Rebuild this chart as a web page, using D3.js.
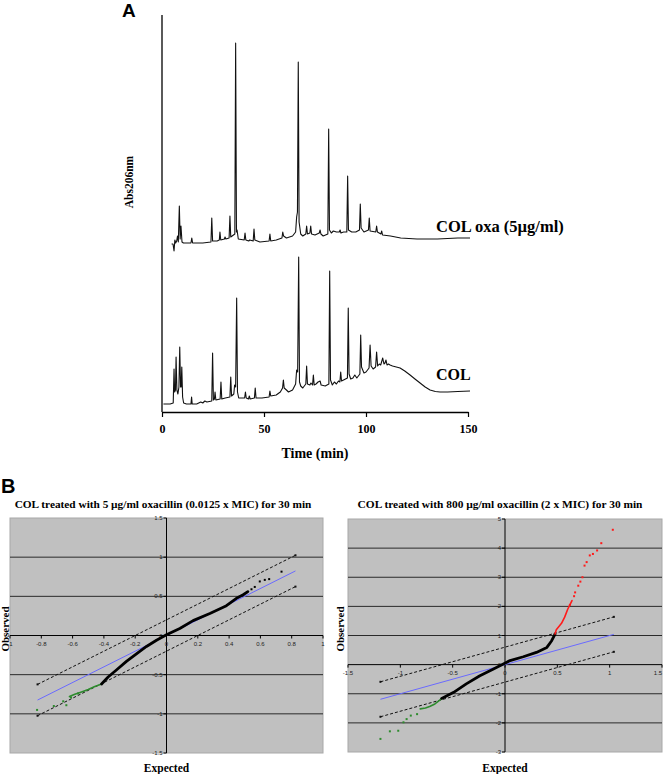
<!DOCTYPE html>
<html><head><meta charset="utf-8">
<script src="https://cdn.jsdelivr.net/npm/d3@7"></script>
<style>body{margin:0;background:#fff}svg{display:block}</style>
</head><body>
<svg id="c" width="664" height="774"></svg>
<script>
// ---------------- DATA ----------------
// Panel A: chromatograms, [time (min), absorbance (arbitrary units)]
const timeTicks = [0, 50, 100, 150];
const traceLabels = ["COL oxa (5µg/ml)", "COL"];
const colOxa = [[4.7,168],[5.4,168],[5.9,161],[6.3,172],[6.7,169],[7.2,171],[7.6,176],[8.0,170],[8.5,206],[8.9,173],[9.3,186],[9.8,170],[10.5,169],[14.2,169],[14.6,174],[15.0,169],[20,169],[24.0,170],[24.4,194],[24.8,171],[27,171],[28.1,172],[28.4,180],[28.8,172],[30.6,173],[30.9,175],[31.3,173],[32.9,174],[33.3,196],[33.7,175],[35.7,178],[36.1,369],[36.5,180],[36.8,182],[37.4,173],[40.3,172],[40.7,179],[41.1,172],[42.5,171],[43,172],[44.7,171],[45.1,183],[45.5,172],[48,170],[52.5,171],[52.9,178],[53.3,171],[56,172],[58.8,174],[59.2,180],[59.6,176],[61,174],[64,176],[65.5,180],[66.0,195],[66.4,200],[66.8,350],[67.2,190],[68,178],[69,176],[70.5,178],[70.9,186],[71.3,178],[72.5,179],[72.9,186],[73.3,178],[75,177],[77.1,179],[77.5,182],[77.9,178],[79,176],[81.3,178],[81.7,283],[82.1,182],[83,179],[84,181],[85.5,180],[86.9,180],[87.3,182],[87.7,179],[89,180],[90.6,180],[91.0,236],[91.4,182],[93,180],[95,180],[96.8,182],[97.2,208],[97.6,184],[99,180],[101.2,182],[101.6,194],[102,181],[104.8,180],[105.2,186],[105.6,180],[107.3,178],[107.7,181],[108.1,177],[112,176],[117,174],[125,173],[135,173],[145,174],[151,174]];
const col = [[0.7,8],[4,8],[5.5,9],[5.9,43],[6.2,20],[6.6,22],[6.9,55],[7.3,22],[7.8,18],[8.3,25],[8.7,65],[9.1,25],[9.4,25],[9.7,45],[10.1,15],[10.6,9],[12,8],[14.2,8],[14.5,15],[14.8,8],[17,8],[19,10],[20,9],[21,11],[22,10],[24.4,11],[24.8,59],[25.2,12],[25.7,13],[26,20],[26.4,12],[28.5,13],[28.9,30],[29.3,13],[31,14],[33.3,15],[33.7,35],[34.1,16],[35.2,18],[35.6,27],[36.1,25],[36.6,114],[37,20],[37.6,14],[40.5,14],[40.9,20],[41.3,14],[42.4,13],[42.8,16],[43.2,13],[45.3,14],[45.7,24],[46.1,14],[49,14],[52.5,15],[52.9,21],[53.3,16],[56,17],[58,20],[59.1,24],[59.5,32],[59.9,24],[61,22],[62,20],[64,22],[65.5,28],[66,42],[66.5,40],[67,155],[67.4,30],[68,26],[69,24],[70.5,28],[70.9,46],[71.3,28],[72.5,27],[73,29],[73.8,27],[74.2,37],[74.6,27],[75.5,28],[76.5,30],[77.5,31],[78,27],[80,26],[81.8,28],[82.2,141],[82.6,32],[83.5,27],[84.5,30],[85.5,28],[86.5,31],[87.2,30],[87.6,40],[88,31],[89,32],[90.9,34],[91.3,104],[91.7,38],[92.5,33],[93.6,34],[94.5,37],[95.5,34],[97,38],[97.4,77],[97.8,45],[99,39],[100,40],[101.5,44],[102,67],[102.5,46],[103.5,43],[104.7,45],[105.2,60],[105.7,46],[106.5,48],[107.2,47],[108.2,54],[108.8,48],[109.3,49],[109.8,52],[110.3,47],[111,48],[111.8,47],[113,46],[116.7,44],[119,41],[121.6,37],[124,33],[126.5,29],[129,25],[131.4,22],[134,20.5],[136.3,20],[140,20],[145,20.5],[151,21]];

// Panel B: Q-Q plots, [expected, observed]
const titles = ["COL treated with 5 µg/ml oxacillin (0.0125 x MIC) for 30 min",
                "COL treated with 800 µg/ml oxacillin (2 x MIC) for 30 min"];
const leftXTicks = [-1,-0.8,-0.6,-0.4,-0.2,0,0.2,0.4,0.6,0.8,1];
const leftYTicks = [-1.5,-1,-0.5,0,0.5,1,1.5];
const leftRefRange = [-0.824, 0.824];
const leftBand = 0.2;
const leftGreenDense = [[-0.62,-0.78],[-0.586,-0.75],[-0.543,-0.72],[-0.50,-0.69],[-0.458,-0.65],[-0.415,-0.62]];
const leftGreenDots = [[-0.827,-0.95],[-0.72,-0.90],[-0.64,-0.89],[-0.66,-0.84],[-0.61,-0.79],[-0.565,-0.74]];
const leftBlackDense = [[-0.415,-0.62],[-0.373,-0.53],[-0.32,-0.44],[-0.256,-0.33],[-0.19,-0.23],[-0.128,-0.14],[-0.064,-0.06],[0,0.01],[0.085,0.09],[0.17,0.19],[0.277,0.28],[0.383,0.38],[0.447,0.475],[0.49,0.52],[0.52,0.56]];
const leftBlackDots = [[0.543,0.59],[0.564,0.62],[0.596,0.69],[0.628,0.71],[0.656,0.72],[0.735,0.815]];

const rightXTicks = [-1.5,-1,-0.5,0,0.5,1,1.5];
const rightYTicks = [-3,-2,-1,0,1,2,3,4,5];
const rightRefRange = [-1.19, 1.04];
const rightBand = 0.6;
const rightGreenDense = [[-0.81,-1.52],[-0.76,-1.49],[-0.72,-1.44],[-0.67,-1.35],[-0.62,-1.21],[-0.605,-1.16]];
const rightGreenDots = [[-1.19,-2.55],[-1.10,-2.29],[-1.02,-2.27],[-0.97,-1.98],[-0.94,-1.87],[-0.90,-1.75],[-0.84,-1.70]];
const rightBlackDense = [[-0.605,-1.16],[-0.49,-0.95],[-0.37,-0.66],[-0.24,-0.38],[-0.11,-0.15],[-0.016,0.02],[0.048,0.14],[0.175,0.27],[0.30,0.42],[0.40,0.59],[0.446,0.82],[0.478,1.05]];
const rightRedDense = [[0.478,1.05],[0.49,1.20],[0.54,1.42],[0.57,1.63],[0.60,1.91],[0.64,2.20]];
const rightRedDots = [[0.67,2.48],[0.70,2.71],[0.74,3.0],[0.76,3.40],[0.78,3.52],[0.81,3.75],[0.84,3.80],[0.88,3.92],[0.92,4.17],[1.03,4.63],[0.62,2.05],[0.66,2.35],[0.72,2.85]];

// ---------------- DRAW ----------------
const svg = d3.select("#c");
const SERIF = "'Liberation Serif', 'Times New Roman', serif";
const SANS = "'Liberation Sans', Arial, sans-serif";

// Panel A
const xA = d3.scaleLinear().domain([0,150]).range([162,468]);
const yA = d3.scaleLinear().domain([0,397]).range([412,15]);
const gA = svg.append("g");
gA.append("text").attr("x",122).attr("y",17).attr("font-family",SANS).attr("font-weight","bold").attr("font-size",19).text("A");
gA.append("line").attr("x1",xA(0)).attr("x2",xA(0)).attr("y1",yA(397)).attr("y2",yA(0)).attr("stroke","#000").attr("stroke-width",1.3);
const axA = d3.axisBottom(xA).tickValues(timeTicks).tickSize(5).tickSizeOuter(0).tickFormat(d=>d);
const gax = gA.append("g").attr("transform",`translate(0,${yA(0)})`).call(axA);
gax.select(".domain").attr("stroke","#000").attr("stroke-width",1.3);
gax.selectAll(".tick line").attr("stroke","#000").attr("stroke-width",1.2);
gax.selectAll("text").attr("font-family",SERIF).attr("font-weight","bold").attr("font-size",12).attr("fill","#000").attr("dy","1.1em");
gA.append("text").attr("x",(xA(0)+xA(150))/2).attr("y",458).attr("text-anchor","middle").attr("font-family",SERIF).attr("font-weight","bold").attr("font-size",14).text("Time (min)");
gA.append("text").attr("transform","translate(133,182) rotate(-90)").attr("text-anchor","middle").attr("font-family",SERIF).attr("font-weight","bold").attr("font-size",11.5).text("Abs206nm");
const lineA = d3.line().x(d=>xA(d[0])).y(d=>yA(d[1]));
[colOxa, col].forEach(tr=>{
  gA.append("path").attr("d",lineA(tr)).attr("fill","none").attr("stroke","#111").attr("stroke-width",1.1).attr("stroke-linejoin","round");
});
gA.append("text").attr("x",436).attr("y",232).attr("font-family",SERIF).attr("font-weight","bold").attr("font-size",16.5).text(traceLabels[0]);
gA.append("text").attr("x",436).attr("y",380).attr("font-family",SERIF).attr("font-weight","bold").attr("font-size",16).text(traceLabels[1]);

svg.append("text").attr("x",1).attr("y",493).attr("font-family",SANS).attr("font-weight","bold").attr("font-size",20).text("B");

function qq(cfg){
  const g = svg.append("g");
  const x = d3.scaleLinear().domain(cfg.xd).range([cfg.l,cfg.r]);
  const y = d3.scaleLinear().domain(cfg.yd).range([cfg.b,cfg.t]);
  g.append("text").attr("x",cfg.tx).attr("y",508).attr("text-anchor","middle").attr("font-family",SERIF).attr("font-weight","bold").attr("font-size",cfg.tfs).text(cfg.title);
  g.append("rect").attr("x",cfg.l).attr("y",cfg.t).attr("width",cfg.r-cfg.l).attr("height",cfg.b-cfg.t).attr("fill","#c0c0c0").attr("stroke","#a8a8a8");
  g.selectAll(".grid").data(cfg.yt.filter(v=>v!==0 && v!==cfg.yd[0] && v!==cfg.yd[1])).join("line")
    .attr("x1",cfg.l).attr("x2",cfg.r).attr("y1",d=>y(d)).attr("y2",d=>y(d)).attr("stroke","#2a2a2a").attr("stroke-width",1);
  g.append("line").attr("x1",cfg.l).attr("x2",cfg.r).attr("y1",y(0)).attr("y2",y(0)).attr("stroke","#000");
  g.append("line").attr("x1",x(0)).attr("x2",x(0)).attr("y1",cfg.t).attr("y2",cfg.b).attr("stroke","#000");
  g.selectAll(".xt").data(cfg.xt).join("line").attr("x1",d=>x(d)).attr("x2",d=>x(d)).attr("y1",y(0)).attr("y2",y(0)+3).attr("stroke","#000");
  g.selectAll(".yt").data(cfg.yt).join("line").attr("x1",x(0)-3).attr("x2",x(0)).attr("y1",d=>y(d)).attr("y2",d=>y(d)).attr("stroke","#000");
  g.selectAll(".xl").data(cfg.xt).join("text").attr("x",d=>Math.min(x(d), 662-4)).attr("y",y(0)+10).attr("text-anchor","middle")
    .attr("font-family",SANS).attr("font-size",6).attr("fill","#222").text(d=>String(d));
  g.selectAll(".yl").data(cfg.yt).join("text").attr("x",x(0)-4).attr("y",d=>y(d)+2).attr("text-anchor","end")
    .attr("font-family",SANS).attr("font-size",6).attr("fill","#222").text(d=>String(d));
  const ln = d3.line().x(d=>x(d[0])).y(d=>y(d[1]));
  const [a,b] = cfg.ref;
  g.append("path").attr("d",ln([[a,a],[b,b]])).attr("stroke","#6a6aff").attr("stroke-width",1).attr("fill","none");
  [cfg.band,-cfg.band].forEach(o=>{
    const pts=[[a,a+o],[b,b+o]];
    g.append("path").attr("d",ln(pts)).attr("stroke","#111").attr("stroke-width",1).attr("stroke-dasharray","3,2").attr("fill","none");
    g.selectAll(null).data(pts).join("rect").attr("x",d=>x(d[0])-1).attr("y",d=>y(d[1])-1).attr("width",2).attr("height",2).attr("fill","#111");
  });
  cfg.series.forEach(s=>{
    if(s.dense) g.append("path").attr("d",ln(s.dense)).attr("fill","none").attr("stroke",s.color).attr("stroke-width",s.w).attr("stroke-linecap","round").attr("stroke-linejoin","round");
    if(s.dots) g.selectAll(null).data(s.dots).join("rect").attr("x",d=>x(d[0])-1).attr("y",d=>y(d[1])-1).attr("width",2).attr("height",2).attr("fill",s.color);
  });
  g.append("text").attr("transform",`translate(${cfg.ox},629) rotate(-90)`).attr("text-anchor","middle").attr("font-family",SERIF).attr("font-weight","bold").attr("font-size",11).text("Observed");
  g.append("text").attr("x",x(0)).attr("y",772).attr("text-anchor","middle").attr("font-family",SERIF).attr("font-weight","bold").attr("font-size",11.5).text("Expected");
}

qq({xd:[-1,1], yd:[-1.5,1.5], l:10, r:323, t:518, b:753, tx:163, tfs:11.3, title:titles[0], xt:leftXTicks, yt:leftYTicks,
    ref:leftRefRange, band:leftBand, ox:9,
    series:[{dense:leftGreenDense,dots:leftGreenDots,color:"#2e8b2e",w:1.6},
            {dense:leftBlackDense,dots:leftBlackDots,color:"#000",w:2.8}]});
qq({xd:[-1.5,1.5], yd:[-3,5], l:348, r:662, t:519, b:752, tx:500, tfs:11.4, title:titles[1], xt:rightXTicks, yt:rightYTicks,
    ref:rightRefRange, band:rightBand, ox:344,
    series:[{dense:rightGreenDense,dots:rightGreenDots,color:"#2e8b2e",w:1.6},
            {dense:rightBlackDense,color:"#000",w:2.8},
            {dense:rightRedDense,dots:rightRedDots,color:"#ff1a1a",w:1.6}]});
</script>
</body></html>
